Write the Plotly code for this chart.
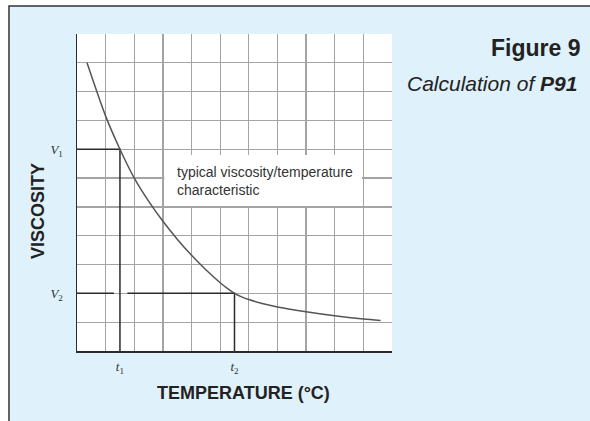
import plotly.graph_objects as go

# ---- data ----
curve_x = [0.35, 1.0, 1.5, 2.0, 2.5, 3.0, 3.5, 4.0, 4.5, 5.0, 5.25, 5.5, 5.75, 6.0, 6.5, 7.0, 8.0, 9.0, 10.0, 10.6]
curve_y = [10.0, 8.15, 7.0, 6.0, 5.2, 4.5, 3.88, 3.32, 2.82, 2.37, 2.17, 2.0, 1.88, 1.785, 1.64, 1.53, 1.36, 1.22, 1.11, 1.06]

t1, t2 = 1.5, 5.5          # temperatures
V1, V2 = 7.0, 2.0          # viscosities
v2_gap = [1.29, 1.76]      # break in the V2 line where it crosses t1

x_tick_vals = [t1, t2]
x_tick_text = ["<i>t</i><sub>1</sub>", "<i>t</i><sub>2</sub>"]
y_tick_vals = [V2, V1]
y_tick_text = ["<i>V</i><sub>2</sub>", "<i>V</i><sub>1</sub>"]
x_grid = list(range(1, 12))
y_grid = list(range(1, 11))

SANS = "Liberation Sans, Arial, Helvetica, sans-serif"
SERIF = "Liberation Serif, Times New Roman, serif"
BG = "#dff1fb"
GRID = "#a4a4a4"
INK = "#2b2b2b"

fig = go.Figure()

# V1 / t1 construction lines
fig.add_trace(go.Scatter(x=[0, t1, t1], y=[V1, V1, 0], mode="lines",
                         line=dict(color=INK, width=1.5), hoverinfo="skip"))
# V2 / t2 construction lines (with break at t1)
fig.add_trace(go.Scatter(x=[0, v2_gap[0], None, v2_gap[1], t2, t2],
                         y=[V2, V2, None, V2, V2, 0], mode="lines",
                         line=dict(color=INK, width=1.5), hoverinfo="skip"))
# viscosity curve
fig.add_trace(go.Scatter(x=curve_x, y=curve_y, mode="lines",
                         line=dict(color="#555555", width=1.5, shape="spline", smoothing=0.8),
                         hoverinfo="skip"))

fig.update_layout(
    width=590, height=421,
    margin=dict(l=77, r=198, t=34, b=70),
    paper_bgcolor="white", plot_bgcolor="white",
    showlegend=False,
    xaxis=dict(range=[0, 11], tickvals=x_tick_vals, ticktext=x_tick_text,
               showgrid=False, zeroline=False, showline=True, linecolor=INK, linewidth=1.5,
               ticks="", ticklabelstandoff=3,
               tickfont=dict(family=SERIF, size=13, color="#333"),
               minor=dict(tickvals=x_grid, showgrid=True, gridcolor=GRID, gridwidth=1.3, ticks=""),
               fixedrange=True),
    yaxis=dict(range=[0, 11], tickvals=y_tick_vals, ticktext=y_tick_text,
               showgrid=True, gridcolor=GRID, gridwidth=1.3,
               zeroline=False, showline=True, linecolor=INK, linewidth=1.5,
               ticks="", ticklabelstandoff=10,
               tickfont=dict(family=SERIF, size=13, color="#333"),
               minor=dict(tickvals=y_grid, showgrid=True, gridcolor=GRID, gridwidth=1.3, ticks=""),
               fixedrange=True),
    shapes=[
        # light-blue panel with frame (top and left edges visible)
        dict(type="rect", xref="paper", yref="paper", x0=-0.2159, x1=2.0, y0=-0.6, y1=1.0883,
             fillcolor=BG, line=dict(color="#333333", width=1.5), layer="below"),
        # white plotting area
        dict(type="rect", xref="x domain", yref="y domain", x0=0, x1=1, y0=0, y1=1,
             fillcolor="white", line=dict(width=0), layer="below"),
        # white label box
        dict(type="rect", xref="x", yref="y", x0=3.05, x1=9.95, y0=5.03, y1=6.8,
             fillcolor="white", line=dict(width=0), layer="above"),
    ],
    annotations=[
        dict(text="typical viscosity/temperature<br>characteristic", x=3.43, y=5.9,
             xref="x", yref="y", xanchor="left", yanchor="middle", align="left",
             showarrow=False, font=dict(family=SANS, size=14, color="#333")),
        dict(text="<b>VISCOSITY</b>", textangle=-90, x=-0.1254, y=0.4432,
             xref="paper", yref="paper", xanchor="center", yanchor="middle",
             showarrow=False, font=dict(family=SANS, size=18, color="#222")),
        dict(text="<b>TEMPERATURE (°C)</b>", x=0.5286, y=-0.1325,
             xref="paper", yref="paper", xanchor="center", yanchor="middle",
             showarrow=False, font=dict(family=SANS, size=18, color="#222")),
        dict(text="<b>Figure 9</b>", x=1.6022, y=0.9558,
             xref="paper", yref="paper", xanchor="right", yanchor="middle",
             showarrow=False, font=dict(family=SANS, size=23, color="#222")),
        dict(text="<i>Calculation of <b>P91</b></i>", x=1.5937, y=0.845,
             xref="paper", yref="paper", xanchor="right", yanchor="middle",
             showarrow=False, font=dict(family=SANS, size=21, color="#222")),
    ],
)

fig.write_html("out.html",
               config=dict(displayModeBar=False, staticPlot=True),
               post_script="document.body.style.margin='0';document.body.style.padding='0';")
